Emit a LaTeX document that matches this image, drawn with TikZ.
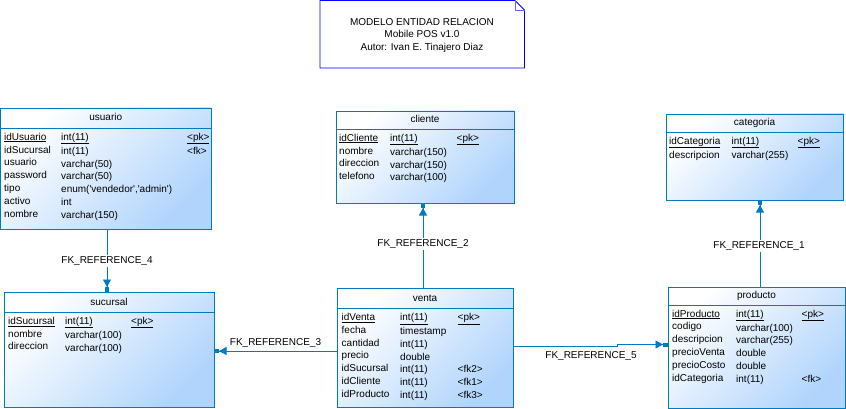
\documentclass[tikz,border=0pt]{standalone}
\usepackage{fontspec}
\newfontfamily\tfont{Liberation Sans}
\usetikzlibrary{arrows.meta,calc}
\definecolor{bord}{RGB}{0,122,193}
\definecolor{fillb}{RGB}{176,212,252}
\definecolor{noteb}{RGB}{0,0,255}
\tikzset{
  tbl/.style={draw=bord, line width=0.9pt, top color=white, bottom color=fillb, shading angle=45,
    anchor=north west, inner sep=0pt, outer sep=0pt},
  hline/.style={draw=bord, line width=0.9pt},
  col/.style={anchor=north west, inner sep=0pt, align=left, font=\tfont\fontsize{10}{12.8}\selectfont},
  ttl/.style={anchor=base, inner sep=0pt, font=\tfont\fontsize{10}{12}\selectfont},
  fk/.style={draw=bord, line width=0.9pt, -{Triangle[length=7.5pt,width=8pt]Rectangle[length=5pt,width=4pt]}},
  lbl/.style={fill=white, inner sep=1.5pt, anchor=base, font=\tfont\fontsize{10}{12}\selectfont},
}
\begin{document}
\begin{tikzpicture}[x=1pt,y=-1pt]
\useasboundingbox (0,0) rectangle (846,409);

% note
\node[inner sep=0pt, outer sep=0pt, minimum width=204.5pt, minimum height=67.5pt, anchor=north west] (note) at (320,0.5) {};
\draw[noteb, line width=0.9pt] (note.north west) -- ($(note.north east)+(-9.5,0)$) -- ($(note.north east)+(0,9.5)$) -- (note.south east) -- (note.south west) -- cycle;
\draw[noteb!60, line width=0.6pt] ($(note.north east)+(-9.5,0)$) -- ($(note.north east)+(-9.5,9.5)$) -- ($(note.north east)+(0,9.5)$);
\node[anchor=north, inner sep=0pt, align=center, font=\tfont\fontsize{10}{12.6}\selectfont] (notetxt) at (422,16.2)
  {\strut MODELO ENTIDAD RELACION\\\strut Mobile POS v1.0\\\strut Autor: Ivan E. Tinajero Diaz};

% usuario
\node[tbl, minimum width=210.5pt, minimum height=121pt] (usuario) at (0.5,108) {};
\draw[hline] ($(usuario.north west)+(0,20)$) -- ($(usuario.north east)+(0,20)$);
\node[ttl] (usuario-t) at ($(usuario.north)+(0,13)$) {usuario};
\node[col] (usuario-n) at (4,131.04) {\strut\underline{idUsuario}\\\strut idSucursal\\\strut usuario\\\strut password\\\strut tipo\\\strut activo\\\strut nombre};
\node[col] (usuario-ty) at (61,131.04) {\strut\underline{int(11)}\\\strut int(11)\\\strut varchar(50)\\\strut varchar(50)\\\strut enum('vendedor','admin')\\\strut int\\\strut varchar(150)};
\node[col] (usuario-k) at (187,131.04) {\strut\underline{<pk>}\\\strut <fk>};

% cliente
\node[tbl, minimum width=178pt, minimum height=92pt] (cliente) at (336,111) {};
\draw[hline] ($(cliente.north west)+(0,18)$) -- ($(cliente.north east)+(0,18)$);
\node[ttl] (cliente-t) at ($(cliente.north)+(0,11.5)$) {cliente};
\node[col] (cliente-n) at (339,132.04) {\strut\underline{idCliente}\\\strut nombre\\\strut direccion\\\strut telefono};
\node[col] (cliente-ty) at (390,132.04) {\strut\underline{int(11)}\\\strut varchar(150)\\\strut varchar(150)\\\strut varchar(100)};
\node[col] (cliente-k) at (456.5,132.04) {\strut\underline{<pk>}};

% categoria
\node[tbl, minimum width=177pt, minimum height=86pt] (categoria) at (666,114) {};
\draw[hline] ($(categoria.north west)+(0,18)$) -- ($(categoria.north east)+(0,18)$);
\node[ttl] (categoria-t) at ($(categoria.north)+(0,11.5)$) {categoria};
\node[col] (categoria-n) at (669,135.04) {\strut\underline{idCategoria}\\\strut descripcion};
\node[col] (categoria-ty) at (731.5,135.04) {\strut\underline{int(11)}\\\strut varchar(255)};
\node[col] (categoria-k) at (797.5,135.04) {\strut\underline{<pk>}};

% sucursal
\node[tbl, minimum width=210pt, minimum height=115pt] (sucursal) at (4,292) {};
\draw[hline] ($(sucursal.north west)+(0,20)$) -- ($(sucursal.north east)+(0,20)$);
\node[ttl] (sucursal-t) at ($(sucursal.north)+(0,13)$) {sucursal};
\node[col] (sucursal-n) at (8,315.04) {\strut\underline{idSucursal}\\\strut nombre\\\strut direccion};
\node[col] (sucursal-ty) at (65,315.04) {\strut\underline{int(11)}\\\strut varchar(100)\\\strut varchar(100)};
\node[col] (sucursal-k) at (131,315.04) {\strut\underline{<pk>}};

% venta
\node[tbl, minimum width=176pt, minimum height=119.5pt] (venta) at (337,288) {};
\draw[hline] ($(venta.north west)+(0,20)$) -- ($(venta.north east)+(0,20)$);
\node[ttl] (venta-t) at ($(venta.north)+(0,13)$) {venta};
\node[col] (venta-n) at (341.5,311.3) {\strut\underline{idVenta}\\\strut fecha\\\strut cantidad\\\strut precio\\\strut idSucursal\\\strut idCliente\\\strut idProducto};
\node[col] (venta-ty) at (400,311.3) {\strut\underline{int(11)}\\\strut timestamp\\\strut int(11)\\\strut double\\\strut int(11)\\\strut int(11)\\\strut int(11)};
\node[col] (venta-k) at (457.5,311.3) {\strut\underline{<pk>}\\\strut\\\strut\\\strut\\\strut <fk2>\\\strut <fk1>\\\strut <fk3>};

% producto
\node[tbl, minimum width=177pt, minimum height=121pt] (producto) at (668,287) {};
\draw[hline] ($(producto.north west)+(0,18)$) -- ($(producto.north east)+(0,18)$);
\node[ttl] (producto-t) at ($(producto.north)+(0,11.5)$) {producto};
\node[col] (producto-n) at (672,308) {\strut\underline{idProducto}\\\strut codigo\\\strut descripcion\\\strut precioVenta\\\strut precioCosto\\\strut idCategoria};
\node[col] (producto-ty) at (736,308) {\strut\underline{int(11)}\\\strut varchar(100)\\\strut varchar(255)\\\strut double\\\strut double\\\strut int(11)};
\node[col] (producto-k) at (801.5,308) {\strut\underline{<pk>}\\\strut\\\strut\\\strut\\\strut\\\strut <fk>};

% connectors
\coordinate (x4) at (107,0);
\coordinate (x2) at (423,0);
\coordinate (x1) at (760,0);
\coordinate (y3) at (0,351);
\coordinate (j5a) at (617,346);
\coordinate (j5b) at (617,344.5);

\draw[fk] (usuario.south -| x4) -- (sucursal.north -| x4);
\node[lbl] (l4) at (107,263.3) {FK\_REFERENCE\_4};

\draw[fk] (venta.north -| x2) -- (cliente.south -| x2);
\node[lbl] (l2) at (423,246.7) {FK\_REFERENCE\_2};

\draw[fk] (producto.north -| x1) -- (categoria.south -| x1);
\node[lbl] (l1) at (759,248.3) {FK\_REFERENCE\_1};

\draw[fk] (venta.west |- y3) -- (sucursal.east |- y3);
\node[lbl] (l3) at (275.5,345) {FK\_REFERENCE\_3};

\draw[fk] (venta.east |- j5a) -- (j5a) -- (j5b) -- (producto.west |- j5b);
\node[lbl] (l5) at (591,358.3) {FK\_REFERENCE\_5};
\end{tikzpicture}
\end{document}
